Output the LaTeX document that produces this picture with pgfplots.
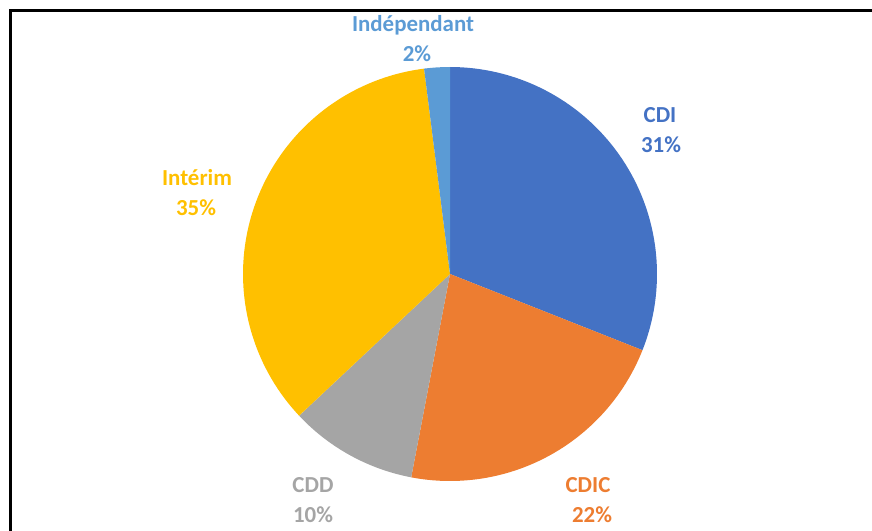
\documentclass[border=0pt]{standalone}
\usepackage{pgfplots}
\pgfplotsset{compat=1.18}
\usepackage{fontspec}
\setmainfont{Carlito}

\definecolor{cdi}{HTML}{4472C4}
\definecolor{cdic}{HTML}{ED7D31}
\definecolor{cdd}{HTML}{A5A5A5}
\definecolor{interim}{HTML}{FFC000}
\definecolor{indep}{HTML}{5B9BD5}

% one slice: #1 = share before it (%), #2 = its share (%), #3 = colour
% pie centre (450,274), radius 207, in picture pixels, clockwise from 12 o'clock
\newcommand{\slice}[3]{%
  \addplot[fill=#3, draw=none, domain={90-3.6*(#1+#2)}:{90-3.6*(#1)},
    samples=80, variable=\t]
    ({450+207*cos(t)}, {274-207*sin(t)}) -- (axis cs:450,274) -- cycle;
}
\tikzset{lbl/.style={font=\fontsize{23}{28}\selectfont\bfseries, anchor=base, inner sep=0pt}}

\begin{document}
\begin{tikzpicture}
\begin{axis}[
  scale only axis, width=872bp, height=531bp,
  xmin=0, xmax=872, ymin=0, ymax=531, y dir=reverse,
  hide axis, clip=false,
]
\slice{0}{31}{cdi}
\slice{31}{22}{cdic}
\slice{53}{10}{cdd}
\slice{63}{35}{interim}
\slice{98}{2}{indep}

\node[lbl, text=indep] at (axis cs:413,32) {Indépendant};
\node[lbl, text=indep] at (axis cs:417,62) {2\%};
\node[lbl, text=cdi] at (axis cs:660,122) {CDI};
\node[lbl, text=cdi] at (axis cs:661,152) {31\%};
\node[lbl, text=interim] at (axis cs:197,185) {Intérim};
\node[lbl, text=interim] at (axis cs:196,215) {35\%};
\node[lbl, text=cdd] at (axis cs:313,492) {CDD};
\node[lbl, text=cdd] at (axis cs:313,522) {10\%};
\node[lbl, text=cdic] at (axis cs:588,492) {CDIC};
\node[lbl, text=cdic] at (axis cs:592,522) {22\%};

\draw[line width=2.5bp, black] (axis cs:10.5,531) -- (axis cs:10.5,10.5) -- (axis cs:872,10.5);
\end{axis}
\pgfresetboundingbox
\path (current axis.south west) rectangle (current axis.north east);
\end{tikzpicture}
\end{document}
